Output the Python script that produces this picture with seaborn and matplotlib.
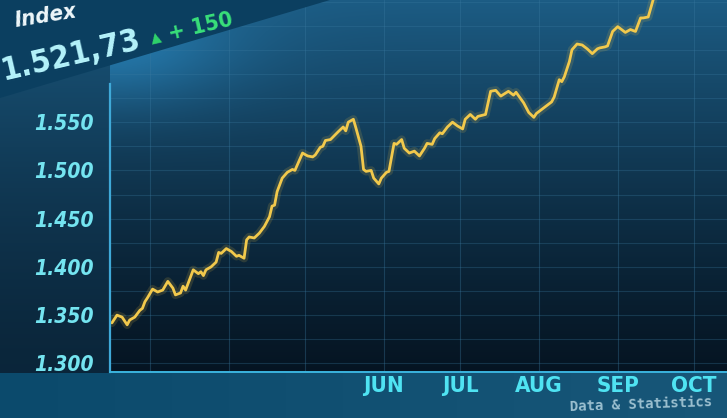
import numpy as np
import pandas as pd
import seaborn as sns
import matplotlib.pyplot as plt
from matplotlib import font_manager
from matplotlib.patches import Polygon
from matplotlib.ticker import MultipleLocator

# index path (day of year 2023, index level in thousands)
day_of_year = [45, 47, 49, 51, 52, 54, 56, 57, 58, 59, 61, 63, 65, 67, 69, 70, 72, 73, 74, 75,
               77, 79, 80, 81, 82, 84, 86, 87, 88, 90, 92, 94, 95, 97, 98, 99, 101, 103, 105, 107,
               108, 109, 110, 112, 114, 116, 117, 119, 120, 122, 124, 125, 127, 128, 129, 131, 134, 136, 137, 138,
               140, 141, 143, 144, 145, 147, 148, 150, 151, 153, 154, 156, 157, 159, 160, 162, 164, 166, 168, 169,
               171, 172, 174, 175, 177, 179, 181, 183, 184, 186, 188, 189, 192, 194, 196, 198, 201, 203, 204, 207,
               209, 211, 212, 214, 216, 218, 219, 221, 222, 223, 225, 226, 228, 230, 232, 234, 236, 237, 239, 240,
               242, 244, 245, 247, 249, 251, 253, 254, 256, 257, 258, 259]
index_values = [1.342, 1.350, 1.348, 1.340, 1.345, 1.348, 1.355, 1.357, 1.364, 1.368, 1.377, 1.374, 1.376, 1.385, 1.378, 1.371, 1.373, 1.380, 1.376, 1.383,
                1.397, 1.393, 1.395, 1.391, 1.397, 1.400, 1.405, 1.415, 1.414, 1.419, 1.416, 1.411, 1.412, 1.409, 1.428, 1.431, 1.430, 1.435, 1.442, 1.452,
                1.463, 1.464, 1.478, 1.492, 1.498, 1.501, 1.500, 1.512, 1.518, 1.515, 1.514, 1.516, 1.524, 1.525, 1.531, 1.532, 1.540, 1.545, 1.541, 1.550,
                1.553, 1.544, 1.525, 1.501, 1.499, 1.500, 1.492, 1.486, 1.492, 1.498, 1.499, 1.528, 1.527, 1.532, 1.523, 1.518, 1.520, 1.515, 1.523, 1.528,
                1.527, 1.533, 1.539, 1.538, 1.545, 1.550, 1.546, 1.543, 1.553, 1.558, 1.553, 1.556, 1.558, 1.582, 1.583, 1.577, 1.582, 1.578, 1.581, 1.570,
                1.560, 1.555, 1.559, 1.563, 1.567, 1.571, 1.576, 1.594, 1.592, 1.597, 1.613, 1.625, 1.631, 1.630, 1.626, 1.621, 1.626, 1.627, 1.628, 1.629,
                1.644, 1.649, 1.647, 1.643, 1.646, 1.644, 1.658, 1.658, 1.659, 1.668, 1.677, 1.694]

month_starts = ['2023-03-01', '2023-04-01', '2023-05-01', '2023-06-01',
                '2023-07-01', '2023-08-01', '2023-09-01', '2023-10-01']
month_labels = ['', '', '', 'JUN', 'JUL', 'AUG', 'SEP', 'OCT']
y_ticks = [1.300, 1.350, 1.400, 1.450, 1.500, 1.550]

header_name = 'Index'
header_value = '1.521,73'
header_change = '+ 150'
footer_text = 'Data & Statistics'

sns.set_theme(style='dark')
plt.rcParams['font.family'] = ['DejaVu Sans']
ttf = font_manager.fontManager.ttflist
has_cond = any(f.name == 'DejaVu Sans' and f.stretch == 'condensed' for f in ttf)
stretch = 'condensed' if has_cond else 'normal'

W, H = 727, 418
BOTTOM = 372
fig = plt.figure(figsize=(W / 100, H / 100), dpi=100)

# background: dark screen with a blue glow at the top left
ys = np.arange(H)[:, None] / H
xs = np.arange(W)[None, :] / W
px = np.arange(W)[None, :] + 0 * ys
py = np.arange(H)[:, None] + 0 * xs
dark = np.array([4, 16, 28]) / 255
light = np.array([28, 92, 132]) / 255
w = (1 - ys) ** 1.3 + 0.5 * np.exp(-((xs - 0.15) ** 2 / 0.03 + (ys - 0.12) ** 2 / 0.02))
img = dark + (light - dark) * w[..., None]

left_lo = np.array([10, 36, 56]) / 255
left_hi = np.array([26, 88, 126]) / 255
left = left_lo + (left_hi - left_lo) * ((1 - ys) ** 1.6 + 0 * xs)[..., None]
img = np.where((px < 110)[..., None], left, img)
strip = np.array([11, 74, 108]) / 255 + 0.05 * (xs + 0 * ys)[..., None]
img = np.where((py > BOTTOM)[..., None], strip, img)
img = np.clip(img, 0, 1)

bg_ax = fig.add_axes([0, 0, 1, 1])
bg_ax.imshow(img, aspect='auto', interpolation='bilinear')
bg_ax.axis('off')
bg_ax.set_zorder(0)

# header band
band = Polygon([(0, 1), (0, 1 - 98 / H), (330 / W, 1)], closed=True,
               transform=fig.transFigure, facecolor='#0b3f60', edgecolor='none', zorder=2)
fig.patches.append(band)

ax = fig.add_axes([110 / W, (H - BOTTOM) / H, 1 - 110 / W, BOTTOM / H])
ax.set_facecolor('none')
ax.set_zorder(1)

df = pd.DataFrame({
    'date': pd.Timestamp('2023-01-01') + pd.to_timedelta(np.array(day_of_year) - 1, unit='D'),
    'index': index_values,
})
sns.lineplot(data=df, x='date', y='index', ax=ax, color='#f5c542', linewidth=6, alpha=0.15)
sns.lineplot(data=df, x='date', y='index', ax=ax, color='#f2c94c', linewidth=2.0)

ax.set_xlim(pd.Timestamp('2023-02-13 06:00'), pd.Timestamp('2023-10-14'))
ax.set_ylim(1.2911, 1.6766)

ax.set_xticks(pd.to_datetime(month_starts), labels=month_labels,
              fontsize=16, fontweight='bold', fontstretch=stretch, color='#4fe3f2')
ax.set_yticks(y_ticks, labels=[f'{t:.3f}' for t in y_ticks],
              fontsize=15, fontweight='bold', fontstyle='italic', fontstretch=stretch,
              color='#74e4f0')
ax.yaxis.set_minor_locator(MultipleLocator(0.025))
ax.tick_params(axis='x', length=0, pad=3)
ax.tick_params(axis='y', which='major', colors='#3fa9d8', length=6, width=1.5, pad=6,
               labelcolor='#74e4f0')
ax.tick_params(axis='y', which='minor', length=0)
ax.set_xlabel('')
ax.set_ylabel('')

ax.grid(True, axis='x', which='major', color='#3a7aa0', linewidth=0.8, alpha=0.35)
ax.grid(True, axis='y', which='both', color='#3a7aa0', linewidth=0.8, alpha=0.3)

for side in ['top', 'right']:
    ax.spines[side].set_visible(False)
ax.spines['left'].set_color('#3fa9d8')
ax.spines['left'].set_linewidth(1.6)
ax.spines['left'].set_bounds(1.2911, 1.59)
ax.spines['bottom'].set_color('#3bb5e0')
ax.spines['bottom'].set_linewidth(1.4)

# ticker header
fig.text(16 / W, 1 - 27 / H, header_name, rotation=9, rotation_mode='anchor',
         ha='left', va='baseline', fontsize=16, fontweight='bold', fontstyle='italic',
         fontstretch=stretch, color='#eef7fa', zorder=3)
fig.text(4 / W, 1 - 80 / H, header_value, rotation=13, rotation_mode='anchor',
         ha='left', va='baseline', fontsize=23, fontweight='bold', fontstretch=stretch,
         color='#b5f3fb', zorder=3)
fig.text(152 / W, 1 - 42 / H, '\u25b2', rotation=13, rotation_mode='anchor',
         ha='left', va='baseline', fontsize=10, color='#2fd36b', zorder=3)
fig.text(170 / W, 1 - 40 / H, header_change, rotation=13, rotation_mode='anchor',
         ha='left', va='baseline', fontsize=16, fontweight='bold', fontstretch=stretch,
         color='#39e07a', zorder=3)
fig.text(712 / W, 1 - 406 / H, footer_text, rotation=2, rotation_mode='anchor',
         ha='right', va='baseline', fontsize=10, fontweight='bold', family='DejaVu Sans Mono',
         color='#9cc0d0', zorder=3)

fig.savefig('out.png', dpi=100)
